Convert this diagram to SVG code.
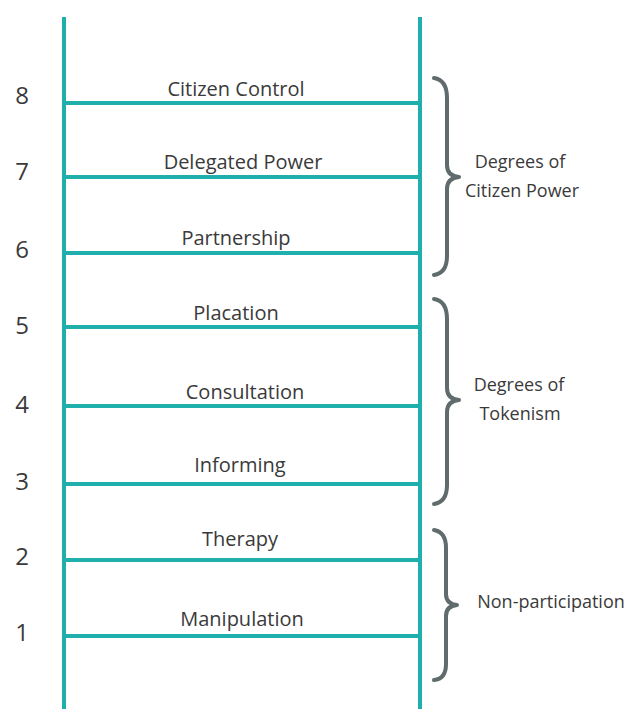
<svg xmlns="http://www.w3.org/2000/svg" width="632" height="709" viewBox="0 0 632 709">
  <style>
    .rail { stroke: #1fb0ad; stroke-width: 4; fill: none; }
    .rung { stroke: #1fb0ad; stroke-width: 4; fill: none; }
    .brace { stroke: #5f6b6c; stroke-width: 4; fill: none; stroke-linecap: round; stroke-linejoin: round; }
    .num { font-family: "Open Sans", "DejaVu Sans", sans-serif; font-size: 24px; fill: #3a3a3a; text-anchor: middle; }
    .lbl { font-family: "Open Sans", "DejaVu Sans", sans-serif; font-size: 20px; fill: #3a3a3a; text-anchor: middle; }
    .grp { font-family: "Open Sans", "DejaVu Sans", sans-serif; font-size: 18px; fill: #3a3a3a; text-anchor: middle; }
  </style>
  <rect width="632" height="709" fill="#ffffff"/>

  <!-- ladder rails and rungs -->
  <g id="connectors">
    <line class="rail" x1="64" y1="17" x2="64" y2="709"/>
    <line class="rail" x1="420" y1="17" x2="420" y2="709"/>
    <line class="rung" x1="64" y1="103" x2="420" y2="103"/>
    <line class="rung" x1="64" y1="177" x2="420" y2="177"/>
    <line class="rung" x1="64" y1="253" x2="420" y2="253"/>
    <line class="rung" x1="64" y1="327" x2="420" y2="327"/>
    <line class="rung" x1="64" y1="406" x2="420" y2="406"/>
    <line class="rung" x1="64" y1="484" x2="420" y2="484"/>
    <line class="rung" x1="64" y1="560" x2="420" y2="560"/>
    <line class="rung" x1="64" y1="636" x2="420" y2="636"/>
  </g>

  <!-- rung levels -->
  <g id="level-8"><text class="num" x="22" y="104">8</text><text class="lbl" x="236" y="96">Citizen Control</text></g>
  <g id="level-7"><text class="num" x="22" y="180">7</text><text class="lbl" x="243" y="169">Delegated Power</text></g>
  <g id="level-6"><text class="num" x="22" y="258">6</text><text class="lbl" x="236" y="245">Partnership</text></g>
  <g id="level-5"><text class="num" x="22" y="334">5</text><text class="lbl" x="236" y="320">Placation</text></g>
  <g id="level-4"><text class="num" x="22" y="413">4</text><text class="lbl" x="245" y="399">Consultation</text></g>
  <g id="level-3"><text class="num" x="22" y="490">3</text><text class="lbl" x="240" y="472">Informing</text></g>
  <g id="level-2"><text class="num" x="22" y="565">2</text><text class="lbl" x="240" y="546">Therapy</text></g>
  <g id="level-1"><text class="num" x="22" y="641">1</text><text class="lbl" x="242" y="626">Manipulation</text></g>

  <!-- group braces -->
  <g id="group-citizen-power">
    <path class="brace" d="M434,78 Q447,80 447,98 L447,165 Q447,176 459,177 Q447,178 447,189 L447,256 Q447,273 434,275"/>
    <text class="grp" x="520" y="168">Degrees of</text>
    <text class="grp" x="522" y="197">Citizen Power</text>
  </g>
  <g id="group-tokenism">
    <path class="brace" d="M434,299 Q447,301 447,319 L447,388 Q447,399 459,400 Q447,401 447,412 L447,485 Q447,502 434,504"/>
    <text class="grp" x="519" y="391">Degrees of</text>
    <text class="grp" x="520" y="420">Tokenism</text>
  </g>
  <g id="group-non-participation">
    <path class="brace" d="M434,530 Q446,532 446,548 L446,594 Q446,604 457,605 Q446,606 446,616 L446,664 Q446,679 434,680"/>
    <text class="grp" x="551" y="608">Non-participation</text>
  </g>
</svg>
